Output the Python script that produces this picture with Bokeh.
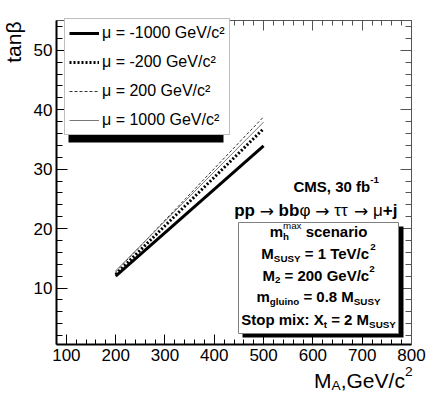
import math
from bokeh.plotting import figure
from bokeh.models import (Range1d, LinearAxis, FixedTicker, Legend, LegendItem,
                          Label, BoxAnnotation)
from bokeh.embed import file_html
from bokeh.resources import INLINE

# ---------------- data ----------------
m_A = [200, 500]
tanb_mu_m1000 = [12.0, 33.9]
tanb_mu_m200 = [12.3, 36.8]
tanb_mu_p200 = [12.7, 38.8]
tanb_mu_p1000 = [12.9, 37.9]
series_labels = ["μ = -1000 GeV/c²", "μ = -200 GeV/c²", "μ = 200 GeV/c²", "μ = 1000 GeV/c²"]
x_ticks = [100, 200, 300, 400, 500, 600, 700, 800]
y_ticks = [10, 20, 30, 40, 50]
X_LIM = (80, 800)
Y_LIM = (0.5, 55)

FONT = "Liberation Sans"
ARROW_FONT = "DejaVu Sans"

# approximate advance widths (Arial / Liberation Sans metrics, per 1000 em)
REG = {' ': 278, ',': 278, '-': 333, '.': 278, '/': 278, ':': 278, '=': 584, '+': 584,
       'A': 667, 'C': 722, 'G': 778, 'M': 833, 'S': 667, 'T': 611, 'U': 722, 'V': 667,
       'X': 667, 'Y': 667, 'a': 556, 'b': 556, 'c': 500, 'e': 556, 'f': 278, 'g': 556,
       'h': 556, 'i': 222, 'j': 222, 'l': 222, 'm': 833, 'n': 556, 'o': 556, 'p': 556,
       'r': 333, 's': 500, 't': 278, 'u': 556, 'x': 500, 'μ': 576, 'β': 575, 'φ': 654,
       'τ': 446, '→': 838}
BOLD = {' ': 278, ',': 278, '-': 333, '.': 278, '/': 278, ':': 333, '=': 584, '+': 584,
        'A': 722, 'C': 722, 'G': 778, 'M': 833, 'S': 667, 'T': 611, 'U': 722, 'V': 667,
        'X': 667, 'Y': 667, 'a': 556, 'b': 611, 'c': 556, 'e': 556, 'f': 333, 'g': 611,
        'h': 611, 'i': 278, 'j': 278, 'l': 278, 'm': 889, 'n': 611, 'o': 611, 'p': 611,
        'r': 389, 's': 556, 't': 333, 'u': 611, 'x': 556}
DIG = set("0123456789")


def tw(s, bold, size):
    tab = BOLD if bold else REG
    return sum(556 if ch in DIG else tab.get(ch, 556) for ch in s) * size / 1000.0


# ---------------- layout: the frame fills the canvas, axes sit at fixed locations ----------------
W, H = 433, 396
BOX_L, BOX_R, BOX_T, BOX_B = 56, 411, 20, 344          # pixel box of the data area
sx = (BOX_R - BOX_L) / (X_LIM[1] - X_LIM[0])
sy = (BOX_B - BOX_T) / (Y_LIM[1] - Y_LIM[0])
x_range = Range1d(X_LIM[0] - BOX_L / sx, X_LIM[1] + (W - BOX_R) / sx)
y_range = Range1d(Y_LIM[0] - (H - BOX_B) / sy, Y_LIM[1] + BOX_T / sy)

p = figure(width=W, height=H, x_range=x_range, y_range=y_range,
           output_backend="svg", toolbar_location=None, x_axis_type=None, y_axis_type=None,
           min_border_left=0, min_border_right=0, min_border_top=0, min_border_bottom=0)
p.outline_line_color = None
p.background_fill_color = "white"
p.border_fill_color = "white"

x_minor = list(range(80, 801, 20))
y_minor = list(range(2, 55, 2))


def make_axis(ticks, minor, labels, color, width, tin, mtin, loc, bounds):
    ax = LinearAxis(ticker=FixedTicker(ticks=ticks, minor_ticks=minor),
                    fixed_location=loc, bounds=bounds)
    ax.axis_line_color = color
    ax.axis_line_width = width
    ax.major_tick_in = tin
    ax.major_tick_out = 0
    ax.minor_tick_in = mtin
    ax.minor_tick_out = 0
    ax.major_tick_line_color = color
    ax.minor_tick_line_color = color
    ax.major_tick_line_width = 1
    ax.minor_tick_line_width = 1
    if labels:
        ax.major_label_text_font = FONT
        ax.major_label_text_font_size = "17px"
        ax.major_label_text_color = "black"
        ax.major_label_standoff = 4
    else:
        ax.major_label_text_font_size = "1px"
        ax.major_label_text_color = None
        ax.major_label_standoff = 0
    return ax


p.add_layout(make_axis(x_ticks, x_minor, False, "#555555", 1, 10, 5, Y_LIM[1], X_LIM), "above")
p.add_layout(make_axis(y_ticks, y_minor, False, "#555555", 1, 11, 6, X_LIM[1], Y_LIM), "right")
p.add_layout(make_axis(x_ticks, x_minor, True, "black", 2, 10, 5, Y_LIM[0], X_LIM), "below")
p.add_layout(make_axis(y_ticks, y_minor, True, "black", 2, 11, 6, X_LIM[0], Y_LIM), "left")

# ---------------- curves ----------------
r1 = p.line(m_A, tanb_mu_m1000, line_color="black", line_width=3)
r2 = p.line(m_A, tanb_mu_m200, line_color="black", line_width=3, line_dash="2 2")
r3 = p.line(m_A, tanb_mu_p200, line_color="#333333", line_width=1, line_dash="3 2")
r4 = p.line(m_A, tanb_mu_p1000, line_color="#777777", line_width=1)


def screen_box(l, r, b, t, **kw):
    return BoxAnnotation(left=l, right=r, bottom=b, top=t,
                         left_units="screen", right_units="screen",
                         bottom_units="screen", top_units="screen", **kw)


# ---------------- legend with shadow ----------------
p.add_layout(screen_box(68, 223, H - 142, H - 24, fill_color="black", fill_alpha=1, line_color=None))
legend = Legend(items=[LegendItem(label=series_labels[i], renderers=[r])
                       for i, r in enumerate([r1, r2, r3, r4])],
                location=(64, H - 135), margin=0, padding=4, spacing=9,
                glyph_width=30, glyph_height=20, label_height=20, label_width=113,
                label_standoff=3, label_text_font=FONT, label_text_font_size="16px",
                label_text_color="black", border_line_color="#808080",
                border_line_width=1, background_fill_color="white",
                background_fill_alpha=1)
p.add_layout(legend)

# ---------------- info box with shadow ----------------
p.add_layout(screen_box(242, 403, H - 337, H - 226, fill_color="black", fill_alpha=1, line_color=None))
p.add_layout(screen_box(238, 398, H - 333, H - 222, fill_color="white", fill_alpha=1,
                        line_color="#808080", line_width=1, line_alpha=1))

RAISE = 6   # baseline correction of Label placement


def rich(segs, x, y, size, align="left", sub_dy=0.3):
    """segs: (text, bold, pos[, advance[, font]]) ; pos in '', 'sub', 'sup'"""
    small = round(size * 0.65, 1)
    items = []
    total = 0.0
    for seg in segs:
        t, b, pos = seg[0], seg[1], seg[2]
        adv = seg[3] if len(seg) > 3 else True
        font = seg[4] if len(seg) > 4 else FONT
        s = size if pos == "" else small
        w = tw(t, b, s)
        items.append((t, b, pos, s, w, adv, font))
        if adv:
            total += w
    if align == "center":
        cx = x - total / 2
    elif align == "right":
        cx = x - total
    else:
        cx = x
    for t, b, pos, s, w, adv, font in items:
        dy = 0 if pos == "" else (-sub_dy * size if pos == "sub" else 0.42 * size)
        lead = len(t) - len(t.lstrip(" "))
        txt = t.strip(" ")
        p.add_layout(Label(x=cx + tw(" " * lead, b, s), y=y + dy + RAISE,
                           x_units="screen", y_units="screen", text=txt,
                           text_font=font, text_font_size=f"{s}px",
                           text_font_style="bold" if b else "normal",
                           text_baseline="alphabetic", text_align="left",
                           text_color="black"))
        if adv:
            cx += w


# axis titles
p.add_layout(Label(x=13, y=H - 21, x_units="screen", y_units="screen", text="tanβ",
                   angle=math.pi / 2, text_font=FONT, text_font_size="21px",
                   text_align="right", text_baseline="alphabetic", text_color="black"))
rich([("M", False, ""), ("A", False, "sub"), (",GeV/c", False, ""), ("2", False, "sup")],
     412, H - 386, 21, align="right", sub_dy=0.25)

# CMS labels
rich([("CMS, 30 fb", True, ""), ("-1", True, "sup")], 293, H - 192, 15)
rich([("pp", True, ""), (" → ", False, "", True, ARROW_FONT), ("bb", True, ""), ("φ", False, ""),
      (" → ", False, "", True, ARROW_FONT), ("ττ", False, ""), (" → ", False, "", True, ARROW_FONT),
      ("μ", False, ""), ("+j", True, "")], 397, H - 216, 17, align="right")

# box contents
CX = 318
rich([("m", True, ""), ("h", True, "sub", False), ("max", False, "sup"),
      (" scenario", True, "")], CX, H - 237, 15, align="center")
rich([("M", True, ""), ("SUSY", True, "sub"), (" = 1 TeV/c", True, ""), ("2", True, "sup")],
     CX, H - 259, 15, align="center")
rich([("M", True, ""), ("2", True, "sub"), (" = 200 GeV/c", True, ""), ("2", True, "sup")],
     CX, H - 281, 15, align="center")
rich([("m", True, ""), ("gluino", True, "sub"), (" = 0.8 M", True, ""), ("SUSY", True, "sub")],
     CX, H - 302, 15, align="center")
rich([("Stop mix: X", True, ""), ("t", True, "sub"), (" = 2 M", True, ""), ("SUSY", True, "sub")],
     CX, H - 325, 15, align="center")

open("out.html", "w").write(file_html(p, INLINE))
